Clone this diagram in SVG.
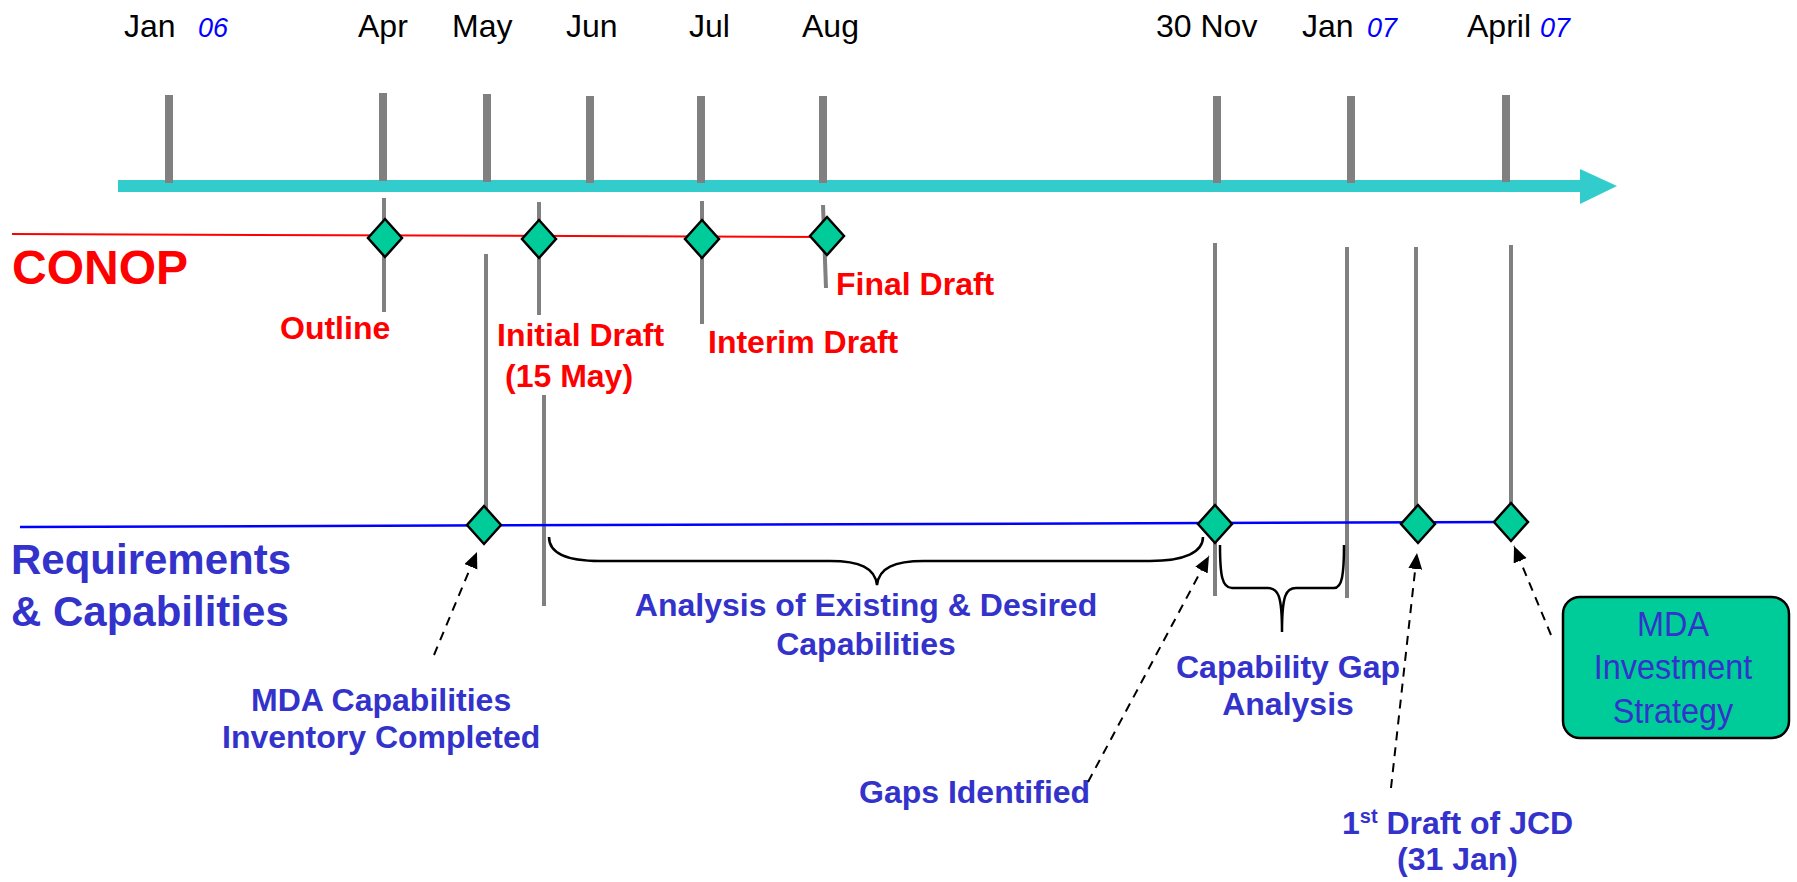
<svg xmlns="http://www.w3.org/2000/svg" xmlns:xlink="http://www.w3.org/1999/xlink" width="1797" height="882" viewBox="0 0 1797 882">
<style>
text{font-family:"Liberation Sans",Arial,sans-serif}
.mon{font-size:32px;fill:#000}
.yr{font-size:27px;font-style:italic;fill:#0000FF}
.tick{stroke:#808080;stroke-width:8}
.vl{stroke:#808080;stroke-width:4}
.dia{fill:#00CC99;stroke:#000;stroke-width:2.5;stroke-linejoin:miter}
.red{font-size:32px;font-weight:bold;fill:#FF0000}
.blu{font-size:32px;font-weight:bold;fill:#3333CC}
.big{font-size:42px;font-weight:bold;fill:#3333CC}
.brace{fill:none;stroke:#000;stroke-width:2.5}
.dash{fill:none;stroke:#000;stroke-width:2;stroke-dasharray:9 7}
.box{font-size:36px;fill:#3333CC;text-anchor:middle}
</style>
<defs>
<path id="dmd" d="M0,-19 L17,0 L0,19 L-17,0 Z"/>
<marker id="ah" markerUnits="userSpaceOnUse" markerWidth="18" markerHeight="16" refX="16" refY="7" orient="auto">
<path d="M0,0 L16,7 L0,14 Z" fill="#000"/>
</marker>
</defs>
<rect width="1797" height="882" fill="#fff"/>

<g id="timeline-axis">
<rect x="118" y="180" width="1464" height="12" fill="#33CCCC"/>
<polygon points="1580,169 1617,186 1580,204" fill="#33CCCC"/>
<line class="tick" x1="169" y1="95" x2="169" y2="183"/>
<line class="tick" x1="383" y1="93" x2="383" y2="181"/>
<line class="tick" x1="487" y1="94" x2="487" y2="182"/>
<line class="tick" x1="590" y1="96" x2="590" y2="183"/>
<line class="tick" x1="701" y1="96" x2="701" y2="183"/>
<line class="tick" x1="823" y1="96" x2="823" y2="183"/>
<line class="tick" x1="1217" y1="96" x2="1217" y2="183"/>
<line class="tick" x1="1351" y1="96" x2="1351" y2="183"/>
<line class="tick" x1="1506" y1="95" x2="1506" y2="182"/>
</g>

<g id="month-labels">
<text class="mon" x="124" y="37">Jan</text><text class="yr" x="198" y="37">06</text>
<text class="mon" x="358" y="37">Apr</text>
<text class="mon" x="452" y="37">May</text>
<text class="mon" x="566" y="37">Jun</text>
<text class="mon" x="689" y="37">Jul</text>
<text class="mon" x="802" y="37">Aug</text>
<text class="mon" x="1156" y="37">30 Nov</text>
<text class="mon" x="1302" y="37">Jan</text><text class="yr" x="1367" y="37">07</text>
<text class="mon" x="1467" y="37">April</text><text class="yr" x="1540" y="37">07</text>
</g>

<g id="guide-lines">
<line class="vl" x1="384" y1="198" x2="384" y2="312"/>
<line class="vl" x1="486" y1="254" x2="486" y2="510"/>
<line class="vl" x1="539" y1="202" x2="539" y2="315"/>
<line class="vl" x1="544" y1="395" x2="544" y2="606"/>
<line class="vl" x1="702" y1="201" x2="702" y2="324"/>
<line class="vl" x1="823" y1="205" x2="826" y2="288"/>
<line class="vl" x1="1215" y1="243" x2="1215" y2="596"/>
<line class="vl" x1="1347" y1="247" x2="1347" y2="598"/>
<line class="vl" x1="1416" y1="247" x2="1416" y2="541"/>
<line class="vl" x1="1511" y1="245" x2="1511" y2="538"/>
</g>

<g id="conop-lane">
<line x1="12" y1="234" x2="826" y2="237" stroke="#FF0000" stroke-width="2"/>
<text x="12" y="284" font-size="48" font-weight="bold" fill="#FF0000">CONOP</text>
</g>

<g id="req-lane">
<line x1="20" y1="527" x2="1511" y2="522" stroke="#0000FF" stroke-width="2.5"/>
<text class="big" x="11" y="574">Requirements</text>
<text class="big" x="11" y="626">&amp; Capabilities</text>
</g>

<g id="m-outline"><use xlink:href="#dmd" class="dia" x="385" y="238"/><text class="red" x="280" y="339">Outline</text></g>
<g id="m-initial"><use xlink:href="#dmd" class="dia" x="539" y="239"/><text class="red" x="497" y="346">Initial Draft</text><text class="red" x="505" y="387">(15 May)</text></g>
<g id="m-interim"><use xlink:href="#dmd" class="dia" x="702" y="239"/><text class="red" x="708" y="353">Interim Draft</text></g>
<g id="m-final"><use xlink:href="#dmd" class="dia" x="827" y="236"/><text class="red" x="836" y="295">Final Draft</text></g>

<g id="m-inventory"><use xlink:href="#dmd" class="dia" x="484" y="525"/><text class="blu" x="251" y="711">MDA Capabilities</text><text class="blu" x="222" y="748">Inventory Completed</text></g>
<g id="m-gaps"><use xlink:href="#dmd" class="dia" x="1215" y="524"/><text class="blu" x="859" y="803">Gaps Identified</text></g>
<g id="m-jcd"><use xlink:href="#dmd" class="dia" x="1418" y="524"/><text class="blu" x="1342" y="834">1<tspan dy="-11" font-size="20">st</tspan><tspan dy="11"> Draft of JCD</tspan></text><text class="blu" x="1397" y="870">(31 Jan)</text></g>
<g id="m-invest"><use xlink:href="#dmd" class="dia" x="1511" y="522"/></g>

<g id="analysis-span">
<path class="brace" d="M549,537 C549,552 565,561 600,561 L830,561 C860,561 875,568 877,585 C879,568 894,561 924,561 L1150,561 C1185,561 1203,552 1203,537"/>
<text class="blu" x="866" y="616" text-anchor="middle">Analysis of Existing &amp; Desired</text>
<text class="blu" x="866" y="655" text-anchor="middle">Capabilities</text>
</g>

<g id="gap-span">
<path class="brace" d="M1220,545 C1220,575 1222,588 1232,588 L1268,588 C1278,588 1282,595 1282,632 C1282,595 1286,588 1296,588 L1334,588 C1342,588 1344,575 1344,545"/>
<text class="blu" x="1288" y="678" text-anchor="middle">Capability Gap</text>
<text class="blu" x="1288" y="715" text-anchor="middle">Analysis</text>
</g>

<g id="investment-strategy">
<rect x="1563" y="597" width="226" height="141" rx="17" fill="#00CC99" stroke="#000" stroke-width="2.5"/>
<text class="box" transform="translate(1673,636) scale(0.9,1)">MDA</text>
<text class="box" transform="translate(1673,679) scale(0.9,1)">Investment</text>
<text class="box" transform="translate(1673,723) scale(0.9,1)">Strategy</text>
</g>

<g id="connectors">
<path class="dash" d="M434,655 L477,552" marker-end="url(#ah)"/>
<path class="dash" d="M1088,782 L1209,556" marker-end="url(#ah)"/>
<path class="dash" d="M1391,788 L1417,553" marker-end="url(#ah)"/>
<path class="dash" d="M1551,635 L1514,546" marker-end="url(#ah)"/>
</g>
</svg>
